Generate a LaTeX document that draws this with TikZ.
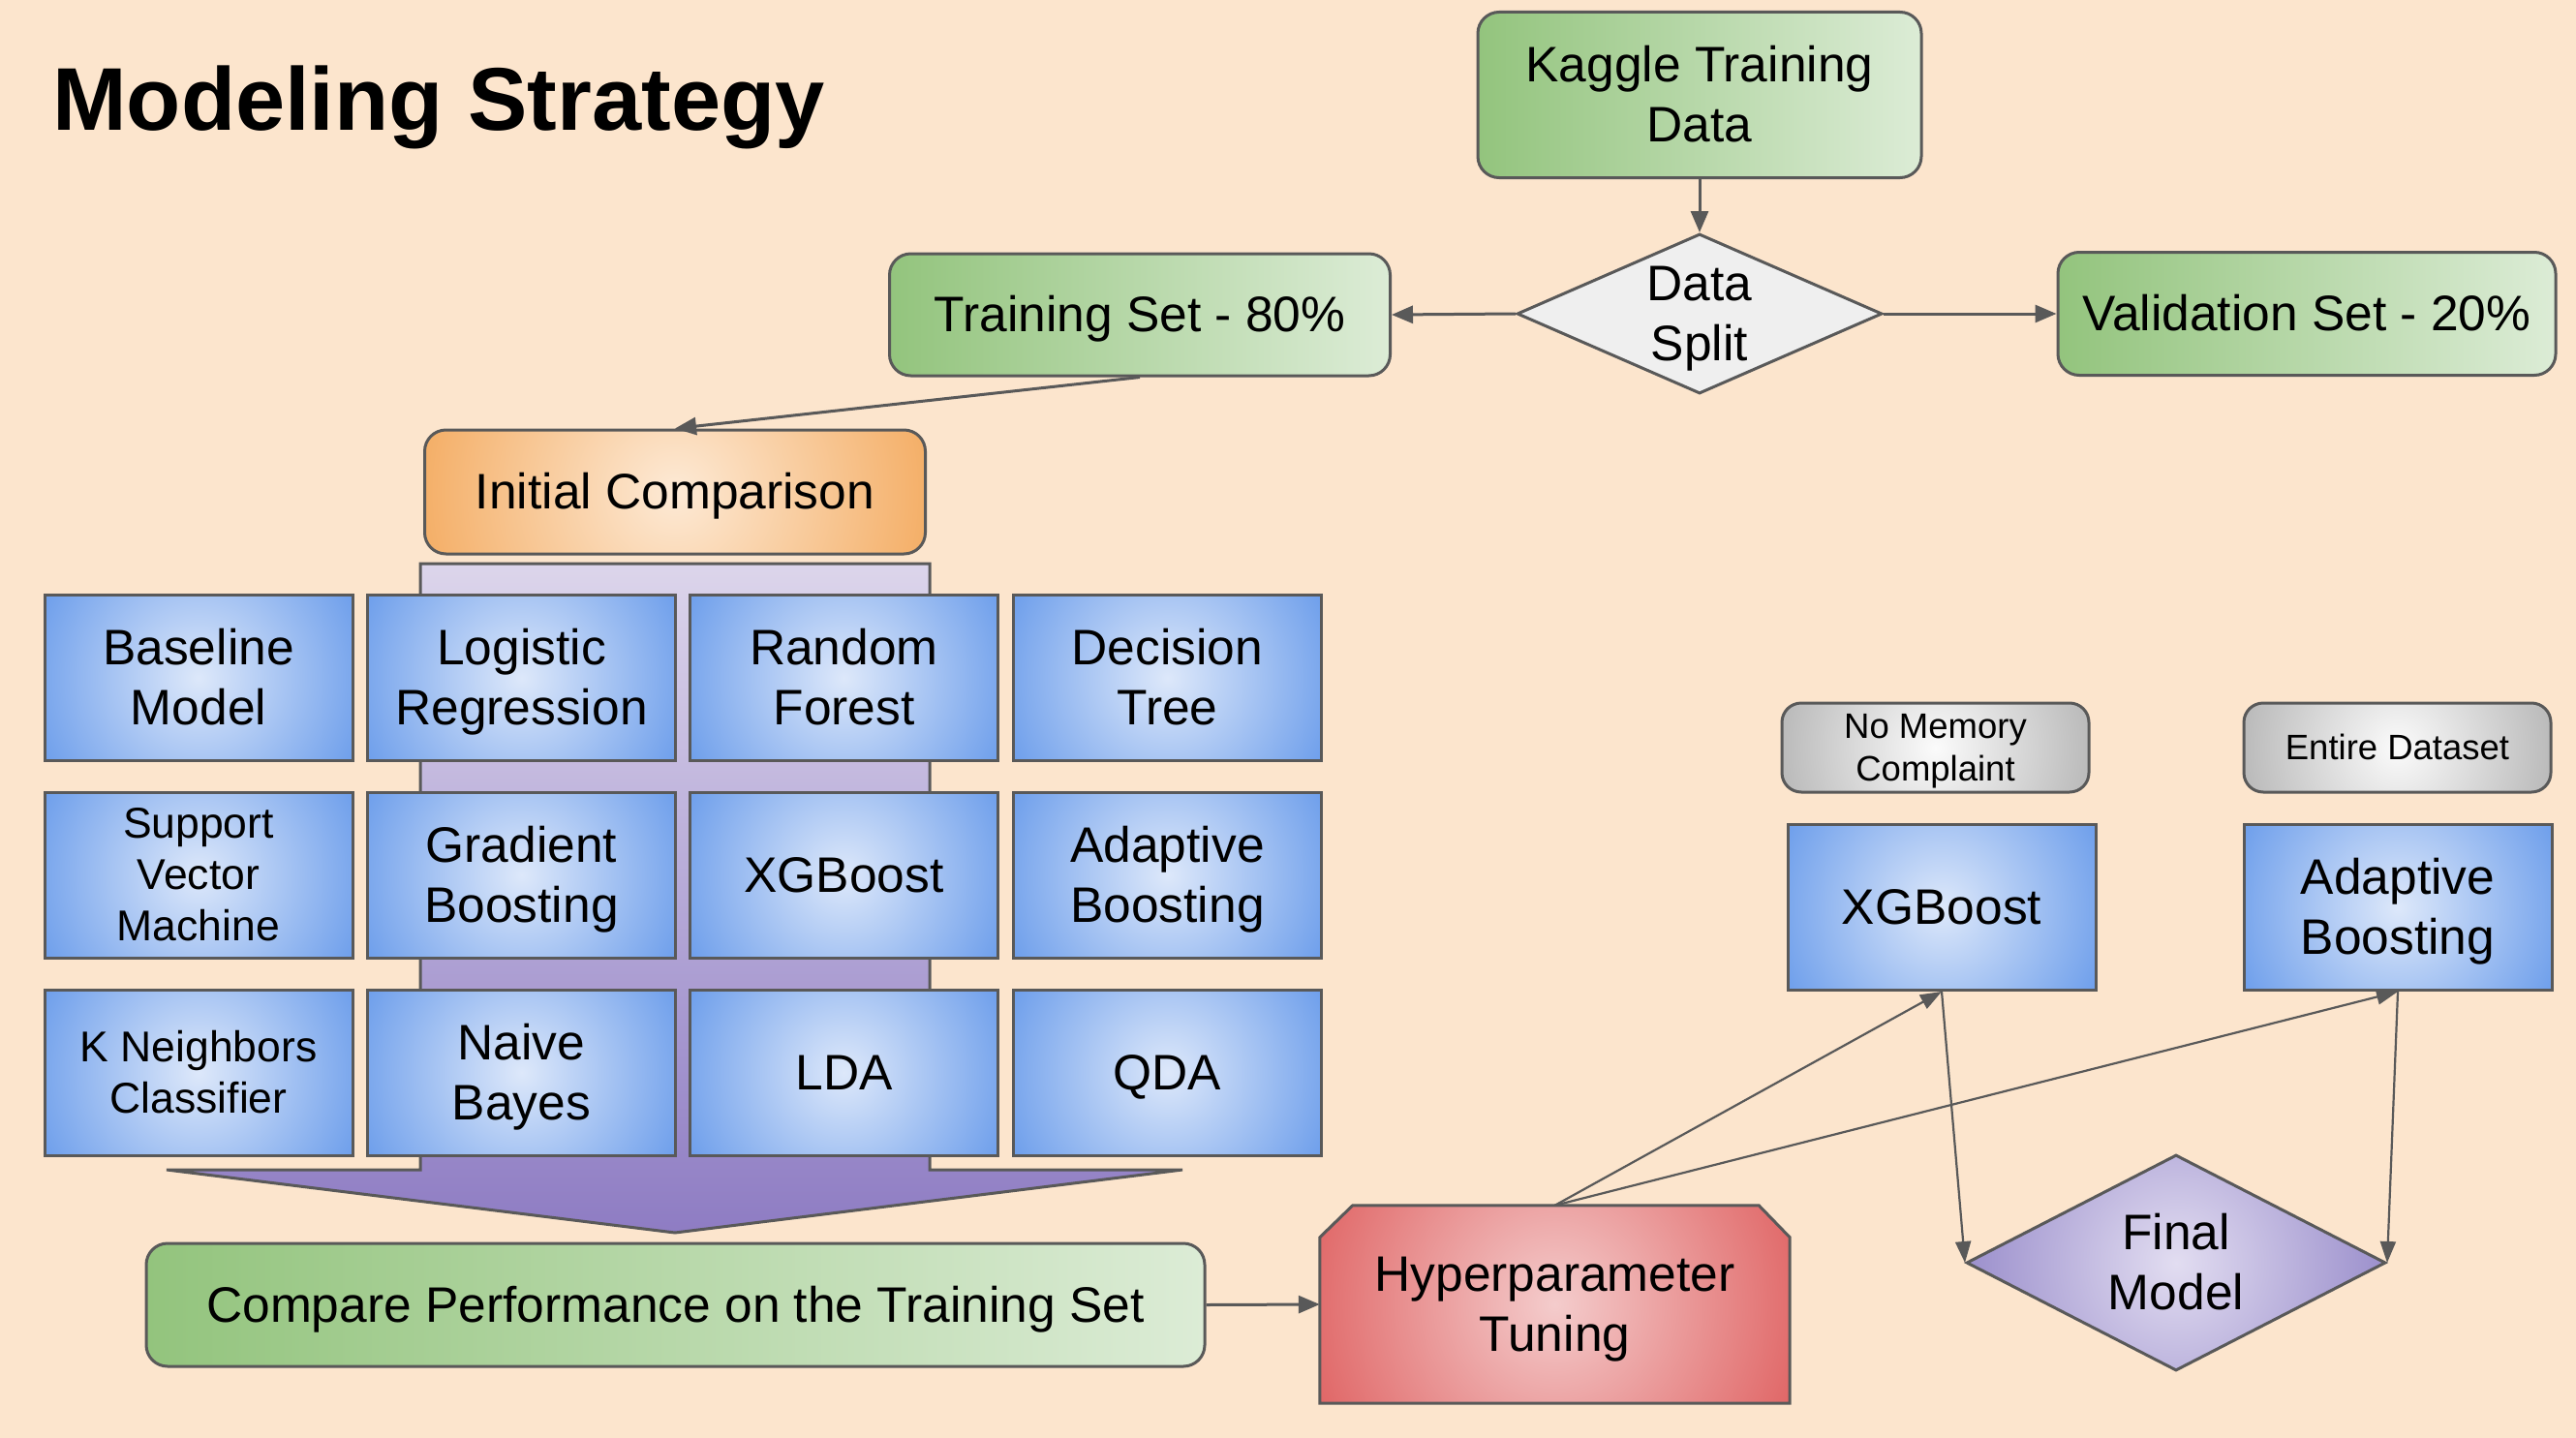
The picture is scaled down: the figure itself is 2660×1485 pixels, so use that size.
\documentclass[tikz,border=0pt]{standalone}
\usepackage{fontspec}
\setmainfont{Liberation Sans}
\usetikzlibrary{arrows.meta,shapes.geometric,calc}
\definecolor{bg}{HTML}{FCE5CD}
\definecolor{bord}{HTML}{595959}
\definecolor{greenL}{HTML}{93C47D}
\definecolor{greenR}{HTML}{DCECD6}
\definecolor{bluein}{HTML}{DDE8FA}
\definecolor{blueout}{HTML}{6D9EEB}
\definecolor{orin}{HTML}{FDEAD6}
\definecolor{orout}{HTML}{F4AE66}
\definecolor{redin}{HTML}{F4CCCC}
\definecolor{redout}{HTML}{E06666}
\definecolor{purin}{HTML}{E2DDF1}
\definecolor{purout}{HTML}{9B8FCC}
\definecolor{grayin}{HTML}{FBFBFB}
\definecolor{grayout}{HTML}{B7B7B7}
\definecolor{lavtop}{HTML}{DCD5EB}
\definecolor{lavbot}{HTML}{8E7CC3}
\definecolor{splitfill}{HTML}{EFEFEF}
\pgfdeclarelayer{bglayer}
\pgfdeclarelayer{midlayer}
\pgfsetlayers{bglayer,midlayer,main}
\newcommand\capstrut{\rule[-0.22em]{0pt}{\dimexpr\fontcharht\font`H+0.44em\relax}}
\newcommand\ml[1]{\capstrut#1\capstrut}
\tikzset{
  txt/.style={align=center, text=black},
  lbl/.style={txt, font=\fontsize{51.5}{62}\selectfont},
  smalllbl/.style={txt, font=\fontsize{44.5}{53}\selectfont},
  tinylbl/.style={txt, font=\fontsize{36.5}{44}\selectfont},
  edgeline/.style={draw=bord, line width=3pt},
  conn/.style={draw=bord, line width=3pt, -{Triangle[length=22pt,width=18pt]}},
  thinconn/.style={draw=bord, line width=2.2pt, -{Triangle[length=22pt,width=16pt]}},
  greenbox/.style={lbl, edgeline, rounded corners=22pt, left color=greenL, right color=greenR, inner sep=0pt},
  bluebox/.style={lbl, edgeline, inner sep=0pt, minimum width=318pt, minimum height=171pt,
    path picture={\shade[inner color=bluein, outer color=blueout] (path picture bounding box.center) circle (182pt);}},
  graybox/.style={tinylbl, edgeline, rounded corners=20pt, inner sep=0pt, minimum width=317pt, minimum height=92pt,
    path picture={\shade[inner color=grayin, outer color=grayout] (path picture bounding box.center) circle (168pt);}},
}
\begin{document}
\begin{tikzpicture}[x=1pt,y=-1pt]
\useasboundingbox (0,0) rectangle (2660,1485);
\begin{pgfonlayer}{bglayer}
  \fill[bg] (0,0) rectangle (2660,1485);
\end{pgfonlayer}

% title
\node[font=\fontsize{92}{100}\selectfont\bfseries, anchor=base west, inner sep=0pt] (title) at (54,135) {Modeling Strategy};

% top flow
\node[greenbox, minimum width=458pt, minimum height=171pt] (kaggle) at (1755,98) {\ml{Kaggle Training\\Data}};
\node[diamond, edgeline, fill=splitfill, minimum width=377pt, minimum height=165pt, inner sep=0pt,
      label={[lbl]center:\ml{Data\\Split}}] (split) at (1755,324) {};
\node[greenbox, minimum width=517pt, minimum height=126pt] (ts) at (1177,325) {\ml{Training Set - 80\%}};
\node[greenbox, minimum width=514pt, minimum height=127pt] (vs) at (2382,324) {\ml{Validation Set - 20\%}};

% initial comparison
\node[lbl, edgeline, rounded corners=22pt, inner sep=0pt, minimum width=517pt, minimum height=128pt,
      path picture={\shade[inner color=orin, outer color=orout] (path picture bounding box.center) circle (266pt);}]
      (ic) at (697,508) {\ml{Initial Comparison}};

% big lavender arrow behind the grid
\shadedraw[top color=lavtop, bottom color=lavbot, draw=bord, line width=3pt, line join=miter]
  (434,582) -- (960,582) -- (960,1208) -- (1221,1208) -- (697,1273) -- (172,1208) -- (434,1208) -- cycle;

% grid of models
\node[bluebox] (b11) at (205,700) {\ml{Baseline\\Model}};
\node[bluebox] (b12) at (538.5,700) {\ml{Logistic\\Regression}};
\node[bluebox] (b13) at (871.5,700) {\ml{Random\\Forest}};
\node[bluebox] (b14) at (1205.5,700) {\ml{Decision\\Tree}};
\node[bluebox, smalllbl] (b21) at (205,903.5) {\ml{Support\\Vector\\Machine}};
\node[bluebox] (b22) at (538.5,903.5) {\ml{Gradient\\Boosting}};
\node[bluebox] (b23) at (871.5,903.5) {\ml{XGBoost}};
\node[bluebox] (b24) at (1205.5,903.5) {\ml{Adaptive\\Boosting}};
\node[bluebox, smalllbl] (b31) at (205,1107.5) {\ml{K Neighbors\\Classifier}};
\node[bluebox] (b32) at (538.5,1107.5) {\ml{Naive\\Bayes}};
\node[bluebox] (b33) at (871.5,1107.5) {\ml{LDA}};
\node[bluebox] (b34) at (1205.5,1107.5) {\ml{QDA}};

% compare performance
\node[greenbox, minimum width=1093pt, minimum height=127pt] (cp) at (697.5,1347.5) {\ml{Compare Performance on the Training Set}};

% hyperparameter tuning
\node[lbl, inner sep=0pt, minimum width=485pt, minimum height=204pt] (hyper) at (1605.5,1347) {\ml{Hyperparameter\\Tuning}};
\begin{pgfonlayer}{midlayer}
  \begin{scope}
    \clip (hyper.south west) -- ($(hyper.north west)+(0,33)$) -- ($(hyper.north west)+(34,0)$)
      -- ($(hyper.north east)+(-32,0)$) -- ($(hyper.north east)+(0,33)$) -- (hyper.south east) -- cycle;
    \shade[inner color=redin, outer color=redout] (hyper.center) circle (265pt);
  \end{scope}
  \draw[edgeline, line join=miter] (hyper.south west) -- ($(hyper.north west)+(0,33)$) -- ($(hyper.north west)+(34,0)$)
      -- ($(hyper.north east)+(-32,0)$) -- ($(hyper.north east)+(0,33)$) -- (hyper.south east) -- cycle;
\end{pgfonlayer}

% right side
\node[graybox] (nmc) at (1998.5,772) {\ml{No Memory\\Complaint}};
\node[graybox] (ed) at (2475.5,772) {\ml{Entire Dataset}};
\node[bluebox] (xgb2) at (2005,937) {\ml{XGBoost}};
\node[bluebox] (ada2) at (2476,937) {\ml{Adaptive\\Boosting}};
\node[diamond, edgeline, inner sep=0pt, minimum width=433pt, minimum height=223pt,
      path picture={\shade[inner color=purin, outer color=purout] (path picture bounding box.center) circle (217pt);},
      label={[lbl]center:\ml{Final\\Model}}] (final) at (2247,1304) {};

% connectors
\draw[conn] (kaggle.south) -- (split.north);
\draw[conn] (split.west) -- (ts.east);
\draw[conn] (split.east) -- (vs.west);
\draw[conn] (ts.south) -- (ic.north);
\draw[conn] (cp.east) -- (hyper.west);
\draw[thinconn] (hyper.north) -- (xgb2.south);
\draw[thinconn] (hyper.north) -- (ada2.south);
\draw[thinconn] (xgb2.south) -- (final.west);
\draw[thinconn] (ada2.south) -- (final.east);
\end{tikzpicture}
\end{document}
